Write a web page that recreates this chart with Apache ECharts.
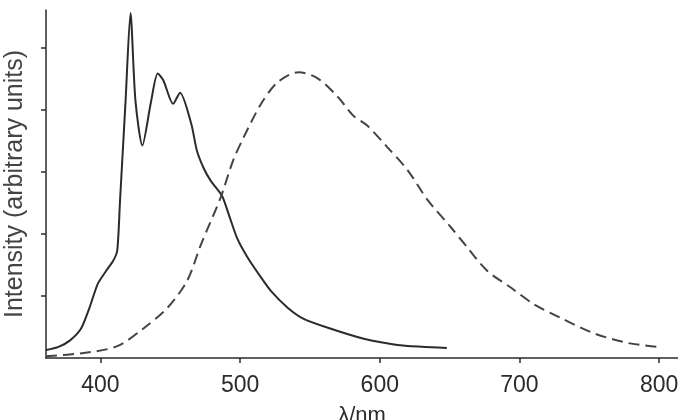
<!DOCTYPE html>
<html>
<head>
<meta charset="utf-8">
<script src="https://cdn.jsdelivr.net/npm/echarts@6/dist/echarts.min.js"></script>
<style>
  html, body { margin: 0; padding: 0; background: #fff; }
  #chart { width: 678px; height: 420px; }
</style>
</head>
<body>
<div id="chart"></div>
<script>
// emission spectra (wavelength nm, intensity)
const solidWl = [361, 370, 378, 386, 392, 398, 404, 409, 412, 414, 418, 421.5, 425, 430, 436, 441, 445, 452, 457, 465, 469, 474, 479, 487, 492, 498, 505, 513, 522, 534, 545.5, 565, 588.5, 612.5, 630, 648]
const solidVal = [0.13, 0.18, 0.28, 0.47, 0.8, 1.19, 1.4, 1.56, 1.73, 2.53, 4.15, 5.55, 4.15, 3.42, 4.1, 4.58, 4.47, 4.09, 4.27, 3.77, 3.34, 3.05, 2.85, 2.61, 2.3, 1.92, 1.63, 1.36, 1.08, 0.81, 0.63, 0.47, 0.31, 0.21, 0.18, 0.16]

const dashWl = [361, 388, 412, 431, 448, 462, 472, 486, 495, 502.5, 515, 527, 542, 555.5, 570, 581, 591, 605.5, 620, 634, 651, 663, 677, 694, 710, 730, 753, 778, 798]
const dashVal = [0.03, 0.08, 0.19, 0.48, 0.81, 1.24, 1.83, 2.58, 3.18, 3.55, 4.09, 4.44, 4.6, 4.5, 4.2, 3.9, 3.74, 3.39, 3.02, 2.55, 2.1, 1.77, 1.4, 1.13, 0.87, 0.64, 0.4, 0.24, 0.18]

const xTicks = [400, 500, 600, 700, 800]
const yTicks = [1, 2, 3, 4, 5]

const zip = (a, b) => a.map((x, i) => [x, b[i]])

const chart = echarts.init(document.getElementById('chart'))
const ink = '#2b2b2b'

chart.setOption({
  animation: false,
  grid: { left: 46, right: 0, top: 10, bottom: 62, containLabel: false, outerBoundsMode: 'none' },
  xAxis: {
    type: 'value',
    min: 361,
    max: 813.5,
    name: 'λ/nm',
    nameLocation: 'middle',
    nameGap: 47,
    nameTextStyle: { fontFamily: 'Liberation Sans', fontSize: 22, color: ink },
    axisLine: { lineStyle: { color: ink, width: 1.5 } },
    axisTick: { customValues: xTicks, length: 5, lineStyle: { color: ink, width: 1.5 } },
    axisLabel: { customValues: xTicks, fontFamily: 'Liberation Sans', fontSize: 23, color: ink, margin: 16 },
    splitLine: { show: false }
  },
  yAxis: {
    type: 'value',
    min: 0,
    max: 5.6,
    name: 'Intensity (arbitrary units)',
    nameLocation: 'middle',
    nameGap: 18,
    nameTextStyle: { fontFamily: 'Liberation Sans', fontSize: 25, color: '#444' },
    axisLine: { show: true, lineStyle: { color: ink, width: 1.5 } },
    axisTick: { show: true, customValues: yTicks, length: 5, lineStyle: { color: ink, width: 1.5 } },
    axisLabel: { show: false },
    splitLine: { show: false }
  },
  series: [
    {
      type: 'line',
      data: zip(solidWl, solidVal),
      smooth: 0.25,
      showSymbol: false,
      lineStyle: { color: ink, width: 2 }
    },
    {
      type: 'line',
      data: zip(dashWl, dashVal),
      smooth: 0.3,
      showSymbol: false,
      lineStyle: { color: '#444', width: 2, type: [11, 6] }
    }
  ]
})
</script>
</body>
</html>
